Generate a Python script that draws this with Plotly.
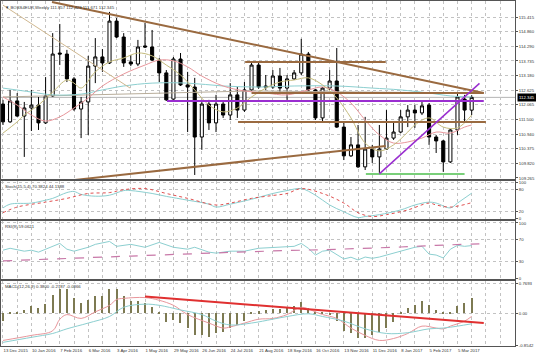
import plotly.graph_objects as go

# ---------------- data (weekly bars, index 0 = 13 Dec 2015) ----------------
bar_index = list(range(67))
opens = [112.09,111.41,112.21,111.63,111.94,112.05,111.37,112.40,114.04,114.00,
         113.05,111.90,112.17,113.54,113.89,113.66,115.26,114.65,113.70,113.62,
         114.31,114.27,113.77,113.28,112.28,113.81,112.82,112.74,110.83,112.09,
         111.37,112.09,111.67,112.44,111.86,112.63,113.58,112.78,112.74,113.16,
         112.70,113.05,113.28,114.00,112.63,111.56,112.70,112.97,111.21,110.11,
         110.53,109.69,110.37,110.07,110.37,110.79,111.02,111.60,111.86,111.75,
         112.05,110.83,110.68,109.88,111.10,112.28,111.857]
highs = [112.25,112.63,112.51,112.17,112.63,112.36,113.12,114.80,115.15,114.16,
         113.12,112.36,113.93,114.61,114.19,115.61,115.38,114.80,113.96,114.54,
         115.19,114.92,113.85,113.39,113.89,114.04,113.32,113.09,112.25,112.25,
         112.44,112.17,112.89,112.74,112.93,113.70,113.66,113.20,113.39,113.47,
         113.20,113.39,114.58,114.08,112.67,112.74,113.39,114.23,111.37,110.83,
         111.29,111.60,110.53,111.29,111.86,111.37,111.86,112.05,112.05,112.17,
         112.13,110.91,110.72,111.14,112.51,112.44,112.429]
lows = [111.29,111.37,111.60,110.07,111.06,111.10,111.33,112.36,113.58,112.93,
        111.83,110.79,110.91,112.89,113.32,113.62,114.61,113.51,113.54,113.54,
        114.23,113.73,112.93,112.21,112.25,112.78,111.02,109.38,110.34,111.10,
        111.02,111.56,111.48,111.56,111.79,112.59,112.67,112.63,112.67,112.51,
        112.25,113.01,113.20,112.59,111.48,111.41,112.63,111.18,109.95,110.07,
        109.65,109.57,109.84,109.46,110.34,110.72,110.98,111.21,111.18,111.67,
        110.53,110.22,109.50,109.84,110.91,111.37,111.671]
closes = [111.41,112.21,111.63,111.94,112.05,111.37,112.40,114.00,114.00,113.05,
          111.90,112.17,113.54,113.89,113.66,115.26,114.65,113.66,113.62,114.27,
          114.27,113.77,113.28,112.25,113.81,112.82,112.74,110.83,112.09,111.37,
          112.09,111.67,112.44,111.86,112.63,113.58,112.74,112.74,113.16,112.70,
          113.05,113.28,114.00,112.63,111.56,112.70,112.97,111.21,110.11,110.53,
          109.69,110.37,110.07,110.37,110.79,111.02,111.60,111.86,111.75,112.02,
          110.83,110.68,109.88,111.10,112.36,111.86,112.345]

date_labels = ["13 Dec 2015","10 Jan 2016","7 Feb 2016","6 Mar 2016","3 Apr 2016",
               "1 May 2016","29 May 2016","26 Jun 2016","24 Jul 2016","21 Aug 2016",
               "18 Sep 2016","16 Oct 2016","13 Nov 2016","11 Dec 2016","8 Jan 2017",
               "5 Feb 2017","5 Mar 2017"]
price_ticks = [115.415,114.860,114.290,113.735,113.180,112.625,112.065,111.500,
               110.940,110.375,109.820,109.265]

# moving averages on price
fast_idx = [0,2,3,5,7,9,10,11,13,15,17,19,21,23,25,27,29,31,33,35,37,39,41,43,45,
            47,49,51,53,55,57,58,60,62,64,66]
fast_val = [110.98,111.41,111.67,112.05,112.55,113.01,112.89,112.70,113.32,113.70,
            113.85,114.04,113.93,113.58,113.20,112.63,112.05,111.79,111.94,112.36,
            112.70,112.93,113.01,113.09,112.82,112.32,111.56,110.60,110.30,110.53,
            111.02,111.29,111.56,111.21,111.18,111.67]
mid_idx = [0,2,4,6,8,10,12,14,17,20,22,24,26,28,31,34,37,40,43,45,47,49,51,53,55,
           57,59,61,63,65,66]
mid_val = [112.36,112.05,111.67,111.44,111.60,111.94,112.32,112.78,113.24,113.58,
           113.77,113.74,113.51,113.16,112.78,112.59,112.51,112.44,112.63,112.74,
           112.55,112.13,111.48,110.91,110.60,110.64,110.79,111.02,110.98,111.21,111.29]
slow_idx = [0,4,7,11,14,17,21,26,31,36,41,47,52,56,60,63,66]
slow_val = [112.70,112.55,112.44,112.47,112.63,112.78,112.89,112.89,112.78,112.74,
            112.78,112.78,112.70,112.63,112.51,112.40,112.36]
long_idx = [0,18,35,50,66]
long_val = [112.36,112.47,112.59,112.55,112.51]

# drawn trendlines / levels (index, price)
tl_top_idx, tl_top_val = [6.9, 67.7], [115.99, 112.51]
tl_low_idx, tl_low_val = [10.1, 53.9], [109.19, 110.49]
tl_diag_idx, tl_diag_val = [0, 17.9], [115.87, 112.70]
lvl_high_idx, lvl_high_val = [34.1, 53.9], [113.70, 113.70]
lvl_mid_idx, lvl_mid_val = [35.0, 67.7], [112.51, 112.51]
lvl_low_idx, lvl_low_val = [33.1, 68.0], [111.40, 111.40]
lvl_purple_idx, lvl_purple_val = [23.1, 67.7], [112.207, 112.207]
lvl_green_idx, lvl_green_val = [51.1, 65.0], [109.42, 109.42]
tl_purple_idx, tl_purple_val = [53.0, 67.1], [109.42, 112.88]

# Stochastic
stoch_idx = [0,1,4,6,7,9,10,11,13,15,17,18,21,23,26,29,30,32,35,38,40,42,44,46,48,
             50,51,53,56,58,60,61,63,64,66]
stoch_main = [29.7,40,43,51,56,72,75,67,62,64.7,77.5,77.5,69.5,61.5,51,40,32,40,53.6,
              69.5,77.5,83,64.7,37.7,19,3,5.8,11,24,37.7,45.6,43,29.7,43,70.3824]
sig_idx = [0,2,6,9,12,15,17,20,23,26,30,32,35,38,40,42,45,48,50,52,54,57,60,61,63,66]
sig_val = [16.4,32,45.6,56,69.5,72,80,83,69.5,56,37.7,43,56,64,69.5,83,69.5,43,16.4,
           5.8,11,24,43,37.7,32,44.1388]

# RSI
rsi_idx = [0,1,3,4,5,7,8,9,10,12,13,15,16,18,20,22,24,26,27,29,30,32,34,36,38,41,42,
           43,44,45,46,48,49,50,51,52,53,55,57,58,59,60,61,62,63,64,65,66]
rsi_val = [50.7,54.2,48.9,50.7,47.2,57.7,63,52.5,48.9,56,61.3,66.6,57.7,61.3,56,64.8,
           56,52.5,56,47.2,45.4,48.9,48.9,54.2,56,57.7,63,54.2,41.9,48.9,50.7,34.8,38,
           33,38.3,36,38.3,45.4,52.5,56,57.7,43.6,41.9,36.6,52.5,59.5,57.7,59.0621]
rsi_ma_idx = [0,18,37,47,56,61,68]
rsi_ma_val = [31.3,40.1,48.9,52.4,56.5,59.5,62.5]

# MACD
macd_hist = [-0.2,0.03,0.03,0.09,0.18,0.13,0.24,0.48,0.62,0.62,
             0.38,0.26,0.34,0.44,0.44,0.62,0.62,0.44,0.32,0.30,
             0.26,0.15,0.02,-0.23,-0.17,-0.25,-0.38,-0.56,-0.58,-0.61,
             -0.53,-0.50,-0.38,-0.31,-0.20,0.03,0.05,0.09,0.11,0.11,
             0.13,0.18,0.28,0.13,0.02,0.02,-0.05,-0.21,-0.46,-0.53,
             -0.64,-0.66,-0.58,-0.50,-0.38,-0.23,0.01,0.13,0.20,0.30,
             0.21,0.09,0.01,0.03,0.17,0.25,0.38]
macd_a_idx = [0,4,7,8,9,11,13,15,16,17,20,22,24,26,29,31,32,34,36,38,40,42,44,45,47,
              49,51,53,55,57,59,61,62,63,65,66]
macd_a_val = [-0.71,-0.58,-0.46,-0.16,-0.04,-0.14,0.03,0.20,0.35,0.38,0.40,0.33,0.20,
              -0.04,-0.26,-0.39,-0.36,-0.26,-0.16,-0.14,-0.04,0.15,0.03,-0.04,-0.14,
              -0.39,-0.58,-0.71,-0.66,-0.53,-0.34,-0.39,-0.41,-0.34,-0.21,-0.0866]
macd_b_idx = [0,4,7,9,12,15,17,20,22,25,28,30,32,35,38,40,43,45,48,51,54,57,60,62,64,66]
macd_b_val = [-0.76,-0.63,-0.53,-0.41,-0.26,-0.09,0.15,0.23,0.20,0.08,-0.04,-0.21,-0.31,
              -0.26,-0.16,-0.09,-0.02,-0.09,-0.21,-0.41,-0.53,-0.51,-0.41,-0.39,-0.34,
              -0.2787]
macd_tl_idx, macd_tl_val = [20, 67.7], [0.43, -0.26]

# ---------------- figure ----------------
PINK = "#e8969b"
TEAL = "#8ccfd0"
KHAKI = "#c4bb7c"
BROWN = "#9a6a40"
PURPLE = "#9a2ed0"
FONT = "Liberation Sans"
TF = dict(family=FONT, size=4.3, color="#333333")

fig = go.Figure()


def line(xs, ys, color, width=1, dash=None, ax="", shape="linear"):
    fig.add_trace(go.Scatter(x=xs, y=ys, mode="lines", xaxis="x" + ax, yaxis="y" + ax,
                             line=dict(color=color, width=width, dash=dash, shape=shape),
                             showlegend=False, hoverinfo="skip"))


fig.add_trace(go.Candlestick(
    x=bar_index, open=opens, high=highs, low=lows, close=closes,
    increasing=dict(line=dict(color="#000000", width=1), fillcolor="#ffffff"),
    decreasing=dict(line=dict(color="#000000", width=1), fillcolor="#000000"),
    whiskerwidth=0, showlegend=False, hoverinfo="skip", xaxis="x", yaxis="y"))

line(long_idx, long_val, "#b8ad9a", 1)
line(slow_idx, slow_val, TEAL, 1, shape="spline")
line(mid_idx, mid_val, PINK, 1, shape="spline")
line(fast_idx, fast_val, KHAKI, 1, shape="spline")
line(tl_diag_idx, tl_diag_val, "#d0b890", 1)
line(tl_top_idx, tl_top_val, BROWN, 2)
line(tl_low_idx, tl_low_val, BROWN, 2)
line(lvl_high_idx, lvl_high_val, BROWN, 2)
line(lvl_mid_idx, lvl_mid_val, BROWN, 2)
line(lvl_low_idx, lvl_low_val, BROWN, 2)
line(lvl_purple_idx, lvl_purple_val, PURPLE, 2)
line(lvl_green_idx, lvl_green_val, "#4cbf4c", 1.5)
line(tl_purple_idx, tl_purple_val, PURPLE, 1.5)

line(stoch_idx, stoch_main, TEAL, 1, ax="2", shape="spline")
line(sig_idx, sig_val, "#e05050", 1, dash="dot", ax="2", shape="spline")

line(rsi_idx, rsi_val, TEAL, 1, ax="3")
line(rsi_ma_idx, rsi_ma_val, "#c878a8", 1.2, dash="dash", ax="3", shape="spline")

fig.add_trace(go.Bar(x=bar_index, y=macd_hist, width=0.17,
                     marker=dict(color="#7d7a52", line=dict(width=0)),
                     xaxis="x4", yaxis="y4", showlegend=False, hoverinfo="skip"))
line(macd_a_idx, macd_a_val, PINK, 1, ax="4", shape="spline")
line(macd_b_idx, macd_b_val, TEAL, 1, ax="4", shape="spline")
line(macd_tl_idx, macd_tl_val, "#e03030", 2, ax="4")

grid_idx = list(range(0, 73, 2))
grid_text = [date_labels[k // 4] if (k % 4 == 0 and k // 4 < len(date_labels)) else "" for k in grid_idx]

AX = dict(showgrid=True, gridcolor="#c2c2c2", griddash="dot", gridwidth=1, zeroline=False,
          showline=True, mirror=True, linecolor="#555555", linewidth=1)
XR = [-0.28, 72.1]
XC = dict(AX, range=XR, tickvals=grid_idx, showticklabels=False, ticks="")
YC = dict(AX, side="right", ticks="outside", ticklen=2, tickcolor="#555555", tickfont=TF)

fig.update_layout(
    width=536, height=358, margin=dict(l=1, r=21, t=1, b=12),
    paper_bgcolor="white", plot_bgcolor="white", bargap=0, boxgap=0.38,
    xaxis=dict(XC, anchor="y", rangeslider=dict(visible=False)),
    xaxis2=dict(XC, anchor="y2", matches="x"),
    xaxis3=dict(XC, anchor="y3", matches="x"),
    xaxis4=dict(XC, anchor="y4", matches="x", showticklabels=True, ticktext=grid_text,
                ticklabelposition="outside right", tickangle=0, tickfont=TF),
    yaxis=dict(YC, domain=[0.4841, 1.0], range=[109.227, 116.027],
               tickvals=price_ticks, ticktext=["%.3f" % v for v in price_ticks]),
    yaxis2=dict(YC, domain=[0.3681, 0.4783], range=[-1, 104],
                tickvals=[100, 80, 20, 0], ticktext=["100", "80", "20", "0"]),
    yaxis3=dict(YC, domain=[0.1942, 0.3623], range=[-1.5, 103.6],
                tickvals=[100, 70, 30, 0], ticktext=["100", "70", "30", "0"]),
    yaxis4=dict(YC, domain=[0.0, 0.1884], range=[-0.8546, 0.83],
                tickvals=[0.7693, 0.0, -0.8542], ticktext=["0.7693", "0.00", "-0.8542"]),
    shapes=[dict(type="line", xref="paper", x0=0, x1=1, yref="y", y0=closes[-1], y1=closes[-1],
                 line=dict(color="#b4b4b4", width=1), layer="below")],
    annotations=[
        dict(xref="paper", yref="y", x=1, y=closes[-1], xanchor="left", xshift=2,
             text="%.3f" % closes[-1], showarrow=False, bgcolor="#000000", borderpad=1,
             font=dict(family=FONT, size=4.3, color="#ffffff")),
        dict(xref="paper", yref="paper", x=0, y=1.0, xanchor="left", yanchor="top", xshift=2, yshift=-2,
             text="▼ BOSS4EUR,Weekly %.3f %.3f %.3f %.3f" % (opens[-1], highs[-1], lows[-1], closes[-1]),
             showarrow=False, font=TF),
        dict(xref="paper", yref="paper", x=0, y=0.4783, xanchor="left", yanchor="top", xshift=2, yshift=-1,
             text="Stoch(15,5,4) %.4f %.4f" % (stoch_main[-1], sig_val[-1]), showarrow=False, font=TF),
        dict(xref="paper", yref="paper", x=0, y=0.3623, xanchor="left", yanchor="top", xshift=2, yshift=-1,
             text="RSI(9) %.4f" % rsi_val[-1], showarrow=False, font=TF),
        dict(xref="paper", yref="paper", x=0, y=0.1884, xanchor="left", yanchor="top", xshift=2, yshift=-1,
             text="MACD(12,26,9) %.4f %.4f %.4f" % (macd_hist[-1], macd_b_val[-1], macd_a_val[-1]),
             showarrow=False, font=TF),
    ],
)

fig.write_html("out.html", config={"displayModeBar": False},
               post_script="document.body.style.margin='0px';")
